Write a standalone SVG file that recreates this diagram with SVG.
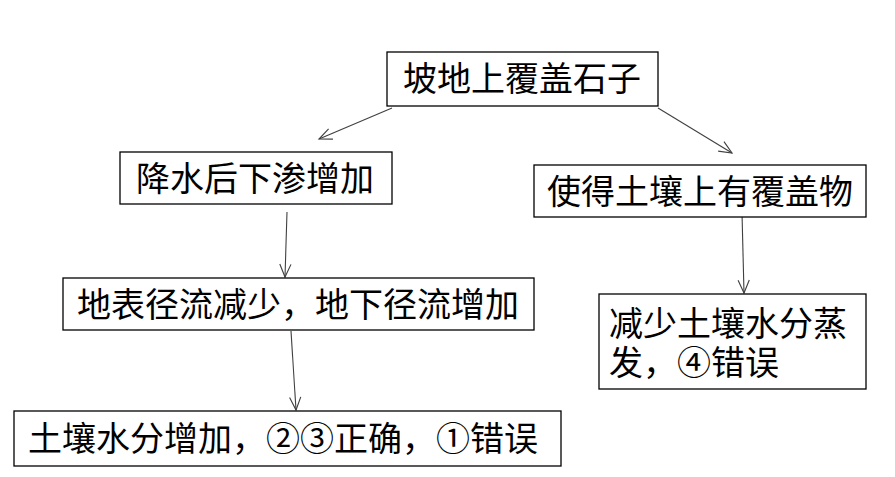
<svg xmlns="http://www.w3.org/2000/svg" width="895" height="477" viewBox="0 0 895 477">
<style>
.box{fill:#fff;stroke:#000;stroke-width:1.3}
.t{font-family:"Noto Sans CJK SC","Noto Sans",sans-serif;font-size:34px;fill:#000}
.c{text-anchor:middle}
.arr{stroke:#404040;stroke-width:1.1;fill:none;marker-end:url(#ah)}
</style>
<defs>
<marker id="ah" viewBox="0 0 20 20" refX="18" refY="10" markerWidth="16" markerHeight="16" markerUnits="userSpaceOnUse" orient="auto">
<polyline points="2,3 18,10 2,17" fill="none" stroke="#404040" stroke-width="1.4"/>
</marker>
</defs>
<rect width="895" height="477" fill="#fff"/>
<g id="connectors">
<line class="arr" x1="392" y1="108" x2="319" y2="139"/>
<line class="arr" x1="658" y1="108" x2="732" y2="153"/>
<line class="arr" x1="287" y1="212" x2="285" y2="277"/>
<line class="arr" x1="291" y1="331" x2="296" y2="410"/>
<line class="arr" x1="742" y1="213" x2="744" y2="293"/>
</g>
<g id="n1">
<rect class="box" x="387" y="52" width="271" height="54"/>
<text class="t c" x="522" y="91">坡地上覆盖石子</text>
</g>
<g id="n2">
<rect class="box" x="120" y="152" width="272" height="52"/>
<text class="t c" x="255" y="191">降水后下渗增加</text>
</g>
<g id="n3">
<rect class="box" x="534" y="165" width="332" height="52"/>
<text class="t c" x="700" y="204">使得土壤上有覆盖物</text>
</g>
<g id="n4">
<rect class="box" x="63" y="278" width="471" height="52"/>
<text class="t c" x="298" y="317">地表径流减少，地下径流增加</text>
</g>
<g id="n5">
<rect class="box" x="14" y="411" width="547" height="55"/>
<text class="t c" x="283" y="451">土壤水分增加，②③正确，①错误</text>
</g>
<g id="n6">
<rect class="box" x="599" y="294" width="267" height="95"/>
<text class="t" x="609" y="336"><tspan x="609" y="336">减少土壤水分蒸</tspan><tspan x="609" y="375">发，④错误</tspan></text>
</g>
</svg>
